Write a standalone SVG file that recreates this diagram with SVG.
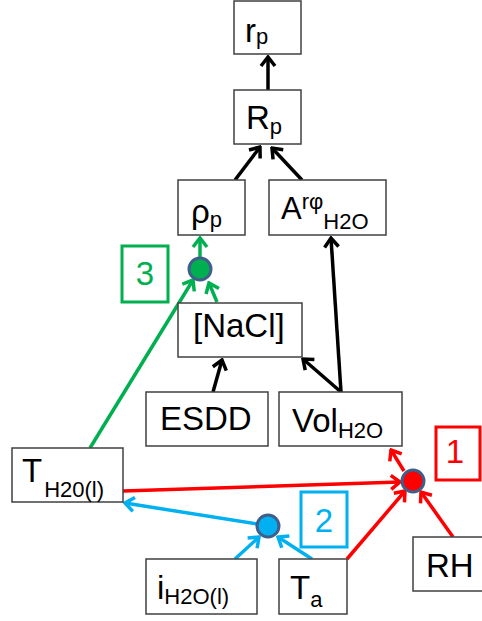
<svg xmlns="http://www.w3.org/2000/svg" width="482" height="621" viewBox="0 0 482 621">
<style>
.box{fill:#fff;stroke:#404040;stroke-width:1.5}
.t{font-family:"Liberation Sans",Arial,sans-serif;font-size:33px;fill:#000}
.s{font-size:22px}
.k{stroke:#000;stroke-width:3.5;fill:none}
.r{stroke:#ff0000;stroke-width:3.5;fill:none}
.g{stroke:#00b050;stroke-width:3.5;fill:none}
.b{stroke:#00b0f0;stroke-width:3.5;fill:none}
.dot{stroke:#3f5f8a;stroke-width:3}
</style>
<defs>
<marker id="ak" markerUnits="userSpaceOnUse" viewBox="-12 -9 14 18" refX="0" refY="0" markerWidth="14" markerHeight="18" orient="auto"><path d="M-9,-7 L0,0 L-9,7" fill="none" stroke="#000" stroke-width="3.5"/></marker>
<marker id="ar" markerUnits="userSpaceOnUse" viewBox="-12 -9 14 18" refX="0" refY="0" markerWidth="14" markerHeight="18" orient="auto"><path d="M-9,-7 L0,0 L-9,7" fill="none" stroke="#ff0000" stroke-width="3.5"/></marker>
<marker id="ag" markerUnits="userSpaceOnUse" viewBox="-12 -9 14 18" refX="0" refY="0" markerWidth="14" markerHeight="18" orient="auto"><path d="M-9,-7 L0,0 L-9,7" fill="none" stroke="#00b050" stroke-width="3.5"/></marker>
<marker id="ab" markerUnits="userSpaceOnUse" viewBox="-12 -9 14 18" refX="0" refY="0" markerWidth="14" markerHeight="18" orient="auto"><path d="M-9,-7 L0,0 L-9,7" fill="none" stroke="#00b0f0" stroke-width="3.5"/></marker>
</defs>
<g id="connectors">
<line class="k" x1="268" y1="90" x2="268" y2="57" marker-end="url(#ak)"/>
<line class="k" x1="235" y1="180" x2="260" y2="147" marker-end="url(#ak)"/>
<line class="k" x1="302" y1="180" x2="272" y2="148" marker-end="url(#ak)"/>
<line class="k" x1="341" y1="392" x2="331" y2="238" marker-end="url(#ak)"/>
<line class="k" x1="341" y1="392" x2="303" y2="359" marker-end="url(#ak)"/>
<line class="k" x1="213" y1="392" x2="222" y2="360" marker-end="url(#ak)"/>
<line class="g" x1="200" y1="257" x2="200" y2="238" marker-end="url(#ag)"/>
<line class="g" x1="217" y1="302" x2="209" y2="283" marker-end="url(#ag)"/>
<line class="g" x1="90" y1="448" x2="193" y2="280" marker-end="url(#ag)"/>
<line class="r" x1="123" y1="491" x2="400" y2="482" marker-end="url(#ar)"/>
<line class="r" x1="404" y1="471" x2="391" y2="450" marker-end="url(#ar)"/>
<line class="r" x1="347" y1="559" x2="405" y2="491" marker-end="url(#ar)"/>
<line class="r" x1="453" y1="537" x2="421" y2="492" marker-end="url(#ar)"/>
<line class="b" x1="257" y1="524" x2="125" y2="503" marker-end="url(#ab)"/>
<line class="b" x1="235" y1="559" x2="259" y2="537" marker-end="url(#ab)"/>
<line class="b" x1="312" y1="559" x2="278" y2="537" marker-end="url(#ab)"/>
</g>
<g id="junction-green"><circle class="dot" cx="200" cy="269" r="11" fill="#00b050"/></g>
<g id="junction-red"><circle class="dot" cx="413" cy="481" r="11" fill="#ff0000"/></g>
<g id="junction-blue"><circle class="dot" cx="268" cy="526" r="11" fill="#00b0f0"/></g>
<g id="label-3"><rect x="122" y="246" width="46" height="56" fill="#fff" stroke="#00b050" stroke-width="3"/><text class="t" x="145" y="285" text-anchor="middle" style="fill:#00b050">3</text></g>
<g id="label-2"><rect x="301" y="492" width="46" height="55" fill="#fff" stroke="#00b0f0" stroke-width="3"/><text class="t" x="324" y="532" text-anchor="middle" style="fill:#00b0f0">2</text></g>
<g id="label-1"><rect x="436" y="427" width="44" height="53" fill="#fff" stroke="#ff0000" stroke-width="3"/><text class="t" x="455" y="463" text-anchor="middle" style="fill:#ff0000">1</text></g>
<g id="node-rp"><rect class="box" x="234" y="1" width="67" height="53"/><text class="t" x="245" y="42">r<tspan class="s" dy="2">p</tspan></text></g>
<g id="node-Rp"><rect class="box" x="234" y="90" width="67" height="54"/><text class="t" x="246" y="129">R<tspan class="s" dy="5">p</tspan></text></g>
<g id="node-rhop"><rect class="box" x="178" y="180" width="67" height="55"/><text class="t" x="191" y="223">ρ<tspan class="s" dy="4">p</tspan></text></g>
<g id="node-A"><rect class="box" x="269" y="180" width="117" height="55"/><text class="t" x="281" y="219" style="font-size:31px">A<tspan class="s" dy="-10">rφ</tspan><tspan class="s" dy="20">H2O</tspan></text></g>
<g id="node-NaCl"><rect class="box" x="178" y="303" width="124" height="54"/><text class="t" x="193" y="337">[NaCl]</text></g>
<g id="node-ESDD"><rect class="box" x="146" y="392" width="122" height="54"/><text class="t" x="160" y="430">ESDD</text></g>
<g id="node-Vol"><rect class="box" x="279" y="392" width="123" height="54"/><text class="t" x="292" y="432">Vol<tspan class="s" dy="6">H2O</tspan></text></g>
<g id="node-TH2O"><rect class="box" x="12" y="448" width="111" height="54"/><text class="t" x="22" y="482">T<tspan class="s" dx="2" dy="15">H20(l)</tspan></text></g>
<g id="node-i"><rect class="box" x="146" y="559" width="111" height="55"/><text class="t" x="157" y="599">i<tspan class="s" dy="5">H2O(l)</tspan></text></g>
<g id="node-Ta"><rect class="box" x="279" y="559" width="68" height="55"/><text class="t" x="290" y="599">T<tspan class="s" dy="8">a</tspan></text></g>
<g id="node-RH"><rect class="box" x="413" y="537" width="70" height="54"/><text class="t" x="426" y="577">RH</text></g>
</svg>
